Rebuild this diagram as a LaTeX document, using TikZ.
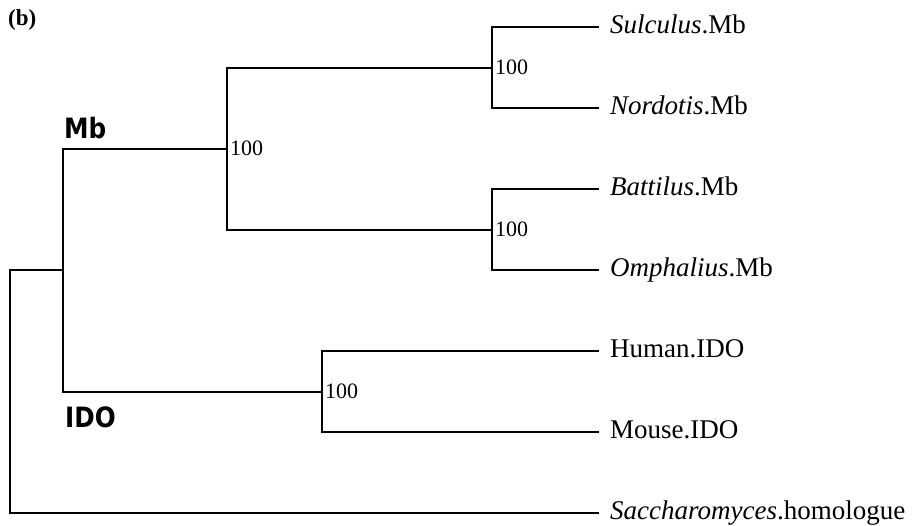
\documentclass[tikz,border=0pt]{standalone}
\usepackage{fontspec}
\setmainfont{Liberation Serif}
\newfontfamily\cladefont{DejaVu Sans}[FakeStretch=0.88]
\tikzset{
  branch/.style={line width=2pt, line join=miter},
  tip/.style={anchor=west, font=\fontsize{27}{30}\selectfont, inner xsep=11pt, inner ysep=0pt, text height=18pt, text depth=5pt},
  boot/.style={anchor=west, font=\fontsize{22}{24}\selectfont, inner sep=3pt},
  clade/.style={anchor=base west, font=\cladefont\bfseries\fontsize{28}{30}\selectfont, inner sep=0pt},
  panel/.style={anchor=base west, font=\bfseries\fontsize{23}{24}\selectfont, inner sep=0pt}
}
\begin{document}
\begin{tikzpicture}[x=1pt,y=-1pt]
\useasboundingbox (0,0) rectangle (916,525);
% tips
\node[tip] (sul) at (599,27) {\textit{Sulculus}.Mb};
\node[tip] (nor) at (599,108) {\textit{Nordotis}.Mb};
\node[tip] (bat) at (599,189) {\textit{Battilus}.Mb};
\node[tip] (omp) at (599,270) {\textit{Omphalius}.Mb};
\node[tip] (hum) at (599,351) {Human.IDO};
\node[tip] (mou) at (599,432) {Mouse.IDO};
\node[tip] (sac) at (599,513) {\textit{Saccharomyces}.homologue};
% internal nodes
\coordinate (sn) at (492,67.5);
\coordinate (bo) at (492,229.5);
\coordinate (mb) at (227,148.5);
\coordinate (ido) at (322,391.5);
\coordinate (a) at (63,270);
\coordinate (root) at (10,391.5);
% branches
\draw[branch] (sn) |- (sul.west);
\draw[branch] (sn) |- (nor.west);
\draw[branch] (bo) |- (bat.west);
\draw[branch] (bo) |- (omp.west);
\draw[branch] (mb) |- (sn);
\draw[branch] (mb) |- (bo);
\draw[branch] (ido) |- (hum.west);
\draw[branch] (ido) |- (mou.west);
\draw[branch] (a) |- (mb);
\draw[branch] (a) |- (ido);
\draw[branch] (root) |- (a);
\draw[branch] (root) |- (sac.west);
% bootstrap values
\node[boot] (b1) at (sn) {100};
\node[boot] (b2) at (bo) {100};
\node[boot] (b3) at (mb) {100};
\node[boot] (b4) at (ido) {100};
% clade labels
\node[clade] (lmb) at (64,138) {Mb};
\node[clade] (lido) at (65,427) {IDO};
\node[panel] (lb) at (8,25) {(b)};
\end{tikzpicture}
\end{document}
